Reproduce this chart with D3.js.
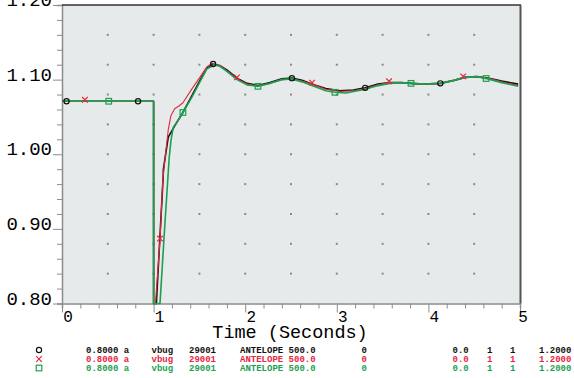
<!DOCTYPE html>
<html>
<head>
<meta charset="utf-8">
<script src="https://cdn.jsdelivr.net/npm/d3@7"></script>
<style>
  body { margin: 0; background: #fff; }
  svg { display: block; }
  text { font-family: "Liberation Mono", "Courier New", monospace; }
</style>
</head>
<body>
<div id="grafico"></div>
<script>
// datos
const serieNegra = [[0,1.071],[1.0,1.071],[1.0,0.80],[1.03,0.80],[1.105,0.971],[1.106,0.979],[1.16,1.023],[1.24,1.040],[1.32,1.056],[1.42,1.079],[1.51,1.100],[1.58,1.115],[1.65,1.121],[1.72,1.119],[1.80,1.113],[1.91,1.102],[2.02,1.095],[2.14,1.092],[2.27,1.096],[2.40,1.101],[2.51,1.102],[2.62,1.099],[2.75,1.093],[2.88,1.088],[3.03,1.085],[3.18,1.086],[3.31,1.089],[3.45,1.094],[3.58,1.096],[3.70,1.096],[3.81,1.095],[3.95,1.094],[4.13,1.095],[4.28,1.099],[4.40,1.103],[4.53,1.104],[4.65,1.102],[4.80,1.098],[4.98,1.094]];
const serieRoja = [[0,1.071],[1.0,1.071],[1.0,0.80],[1.02,0.80],[1.07,0.885],[1.10,0.965],[1.13,1.0],[1.16,1.033],[1.19,1.052],[1.23,1.061],[1.28,1.065],[1.32,1.069],[1.42,1.088],[1.51,1.104],[1.58,1.117],[1.64,1.122],[1.72,1.119],[1.80,1.112],[1.91,1.101],[2.02,1.094],[2.14,1.091],[2.27,1.095],[2.40,1.100],[2.51,1.101],[2.62,1.098],[2.73,1.094],[2.88,1.087],[3.03,1.084],[3.18,1.085],[3.31,1.088],[3.45,1.093],[3.58,1.096],[3.70,1.096],[3.81,1.095],[3.95,1.094],[4.13,1.095],[4.28,1.099],[4.40,1.103],[4.53,1.104],[4.65,1.102],[4.80,1.097],[4.98,1.092]];
const serieVerde = [[0,1.071],[1.0,1.071],[1.0,0.80],[1.07,0.80],[1.12,0.90],[1.17,0.995],[1.19,1.019],[1.215,1.036],[1.27,1.046],[1.32,1.056],[1.42,1.077],[1.51,1.098],[1.58,1.114],[1.66,1.120],[1.72,1.118],[1.80,1.111],[1.91,1.100],[2.02,1.093],[2.14,1.091],[2.27,1.095],[2.40,1.100],[2.51,1.101],[2.62,1.097],[2.75,1.091],[2.88,1.085],[2.98,1.083],[3.10,1.082],[3.31,1.087],[3.45,1.092],[3.58,1.095],[3.70,1.096],[3.81,1.095],[3.95,1.094],[4.13,1.095],[4.28,1.099],[4.40,1.103],[4.53,1.104],[4.65,1.101],[4.80,1.096],[4.98,1.091]];

const marcasNegra = [0.05, 0.83, 1.65, 2.51, 3.31, 4.13];
const marcasRoja = [0.25, 1.07, 1.91, 2.73, 3.57, 4.38];
const marcasVerde = [0.51, 1.32, 2.14, 2.98, 3.81, 4.63];

const ticksX = [0, 1, 2, 3, 4, 5];
const ticksY = [0.80, 0.90, 1.00, 1.10, 1.20];
const puntosX = [0.5, 1.0, 1.5, 2.0, 2.5, 3.0, 3.5, 4.0, 4.5];
const puntosY = [0.84, 0.88, 0.92, 0.96, 1.00, 1.04, 1.08, 1.12, 1.16];

const leyenda = [
  ["0.8000 a", "vbug", "29001", "ANTELOPE 500.0", "0", "0.0", "1", "1", "1.2000"],
  ["0.8000 a", "vbug", "29001", "ANTELOPE 500.0", "0", "0.0", "1", "1", "1.2000"],
  ["0.8000 a", "vbug", "29001", "ANTELOPE 500.0", "0", "0.0", "1", "1", "1.2000"]
];
const colLeyenda = [86, 151.5, 189, 240, 361.5, 452.5, 487, 510, 539];
const colores = ["#111111", "#e8253f", "#1d9f4f"];
const simbolosLey = ["circle", "cross", "square"];

const width = 574, height = 378;
const margin = {top: 5, right: 54, bottom: 75, left: 62};

const svg = d3.select("#grafico").append("svg")
  .attr("width", width)
  .attr("height", height);

const gx = d3.scaleLinear().domain([0, 5]).range([margin.left, width - margin.right]);
const gy = d3.scaleLinear().domain([0.8, 1.2]).range([height - margin.bottom + 0.5, margin.top]);

// fondo del area
svg.append("rect")
  .attr("x", gx(0)).attr("y", gy(1.2))
  .attr("width", gx(5) - gx(0)).attr("height", gy(0.8) - gy(1.2))
  .attr("fill", "#e6eaea");

// puntos de rejilla
puntosX.forEach(px => {
  puntosY.forEach(py => {
    svg.append("rect")
      .attr("x", gx(px) - 1).attr("y", gy(py) - 1)
      .attr("width", 2).attr("height", 2)
      .attr("fill", "#8a8a8a");
  });
});

// eje X
const ejeX = svg.append("g")
  .attr("transform", "translate(0," + gy(0.8) + ")")
  .call(d3.axisBottom(gx).tickValues(d3.range(0, 5.001, 0.2)).tickSize(5).tickFormat(""));
ejeX.select(".domain").attr("stroke", "#8c8c8c").attr("stroke-width", 1.5);
ejeX.selectAll(".tick line").attr("stroke", "#8c8c8c")
  .attr("y2", d => Math.abs(d - Math.round(d)) < 1e-6 ? 9 : 5);

svg.append("g").selectAll("text")
  .data(ticksX)
  .enter()
  .append("text")
  .attr("x", d => gx(d) + (d === 5 ? 3 : 6))
  .attr("y", gy(0.8) + 18)
  .attr("text-anchor", "middle")
  .style("font-size", "16px")
  .text(d => d);

// eje Y
const ejeY = svg.append("g")
  .attr("transform", "translate(" + gx(0) + ",0)")
  .call(d3.axisLeft(gy).tickValues(d3.range(0.8, 1.2001, 0.02)).tickSize(5).tickFormat(""));
ejeY.select(".domain").attr("stroke", "#8c8c8c").attr("stroke-width", 1.5);
ejeY.selectAll(".tick line").attr("stroke", "#8c8c8c")
  .attr("x2", d => Math.abs(d * 10 - Math.round(d * 10)) < 1e-6 ? -9 : -5);

svg.append("g").selectAll("text")
  .data(ticksY)
  .enter()
  .append("text")
  .attr("x", 52)
  .attr("y", d => gy(d) + 1)
  .attr("text-anchor", "end")
  .style("font-size", "19px")
  .text(d => d.toFixed(2));

// marco superior y derecho
svg.append("line")
  .attr("x1", gx(0)).attr("x2", gx(5) + 1).attr("y1", gy(1.2)).attr("y2", gy(1.2))
  .attr("stroke", "#333").attr("stroke-width", 1.5);
svg.append("line")
  .attr("x1", gx(5) + 0.5).attr("x2", gx(5) + 0.5).attr("y1", gy(1.2)).attr("y2", gy(0.8))
  .attr("stroke", "#555").attr("stroke-width", 2);

// etiqueta eje X
svg.append("text")
  .attr("x", 290)
  .attr("y", 337.5)
  .attr("text-anchor", "middle")
  .style("font-size", "18.5px")
  .text("Time (Seconds)");

// curvas
const linea = d3.line().x(d => gx(d[0])).y(d => gy(d[1]));
const series = [serieNegra, serieRoja, serieVerde];
const marcas = [marcasNegra, marcasRoja, marcasVerde];
const anchos = [1.6, 1.1, 1.6];

function valorEn(serie, t) {
  for (let i = serie.length - 1; i > 0; i--) {
    const a = serie[i - 1], b = serie[i];
    if (t >= a[0] && t <= b[0] && b[0] > a[0]) {
      return a[1] + (b[1] - a[1]) * (t - a[0]) / (b[0] - a[0]);
    }
  }
  return serie[0][1];
}

function dibujarSimbolo(g, tipo, x, y, color) {
  if (tipo === "circle") {
    g.append("circle").attr("cx", x).attr("cy", y).attr("r", 2.6)
      .attr("fill", "none").attr("stroke", color).attr("stroke-width", 1.2);
  } else if (tipo === "cross") {
    g.append("path")
      .attr("d", `M${x-2.8},${y-2.8}L${x+2.8},${y+2.8}M${x-2.8},${y+2.8}L${x+2.8},${y-2.8}`)
      .attr("stroke", color).attr("stroke-width", 1.2);
  } else {
    g.append("rect").attr("x", x - 2.8).attr("y", y - 2.8).attr("width", 5.6).attr("height", 5.6)
      .attr("fill", "none").attr("stroke", color).attr("stroke-width", 1.2);
  }
}

const gcurvas = svg.append("g");
series.forEach((s, i) => {
  gcurvas.append("path")
    .datum(s)
    .attr("d", linea)
    .attr("fill", "none")
    .attr("stroke", colores[i])
    .attr("stroke-width", anchos[i])
    .attr("stroke-linejoin", "round");
});
series.forEach((s, i) => {
  marcas[i].forEach(t => {
    dibujarSimbolo(gcurvas, simbolosLey[i], gx(t), gy(valorEn(s, t)) - (i === 1 ? 1.5 : 0), colores[i]);
  });
});

// leyenda
const gley = svg.append("g");
leyenda.forEach((fila, i) => {
  const yb = 353 + i * 9;
  dibujarSimbolo(gley, simbolosLey[i], 39, yb - 3, colores[i]);
  fila.forEach((txt, j) => {
    gley.append("text")
      .attr("x", colLeyenda[j])
      .attr("y", yb)
      .style("font-size", "9px")
      .style("font-weight", "bold")
      .style("fill", colores[i])
      .text(txt);
  });
});
</script>
</body>
</html>
